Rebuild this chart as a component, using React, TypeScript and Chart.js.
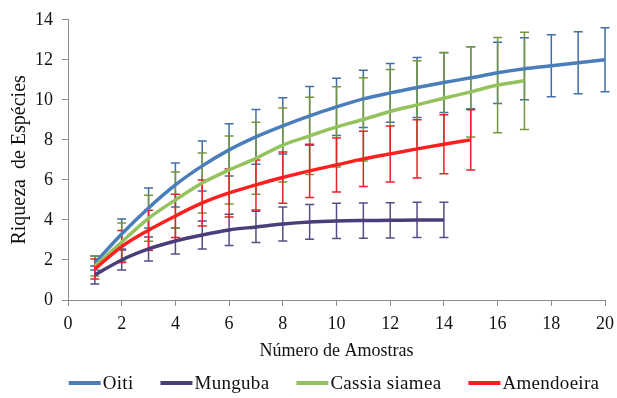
import React, { useEffect, useRef } from "react";
import { Chart, registerables } from "chart.js";

Chart.register(...registerables);

const seriesNames = ["Oiti", "Munguba", "Cassia siamea", "Amendoeira"];

const oitiX = [1, 2, 3, 4, 5, 6, 7, 8, 9, 10, 11, 12, 13, 14, 15, 16, 17, 18, 19, 20];
const oitiY = [1.85, 3.3, 4.6, 5.75, 6.7, 7.5, 8.15, 8.7, 9.2, 9.65, 10.05, 10.35, 10.62, 10.87, 11.1, 11.35, 11.55, 11.7, 11.85, 12.0];
const oitiErr = [0.35, 0.75, 1.0, 1.1, 1.25, 1.3, 1.37, 1.4, 1.47, 1.43, 1.43, 1.47, 1.5, 1.5, 1.55, 1.53, 1.55, 1.55, 1.55, 1.6];

const mungubaX = [1, 2, 3, 4, 5, 6, 7, 8, 9, 10, 11, 12, 13, 14];
const mungubaY = [1.25, 2.0, 2.55, 2.95, 3.25, 3.5, 3.65, 3.8, 3.9, 3.95, 3.97, 3.98, 4.0, 4.0];
const mungubaErr = [0.45, 0.5, 0.6, 0.65, 0.7, 0.78, 0.78, 0.85, 0.87, 0.88, 0.88, 0.88, 0.88, 0.88];

const cassiaX = [1, 2, 3, 4, 5, 6, 7, 8, 9, 10, 11, 12, 13, 14, 15, 16, 17];
const cassiaY = [1.7, 2.9, 4.08, 5.0, 5.85, 6.5, 7.08, 7.74, 8.2, 8.65, 9.02, 9.42, 9.75, 10.08, 10.4, 10.74, 10.95];
const cassiaErr = [0.5, 0.95, 1.15, 1.4, 1.5, 1.7, 1.8, 1.85, 1.93, 2.0, 2.08, 2.1, 2.2, 2.27, 2.25, 2.38, 2.43];

const amendX = [1, 2, 3, 4, 5, 6, 7, 8, 9, 10, 11, 12, 13, 14, 15];
const amendY = [1.55, 2.67, 3.49, 4.2, 4.85, 5.35, 5.75, 6.12, 6.45, 6.75, 7.05, 7.3, 7.55, 7.78, 8.0];
const amendErr = [0.5, 0.8, 1.0, 1.08, 1.15, 1.2, 1.25, 1.28, 1.33, 1.35, 1.38, 1.4, 1.45, 1.47, 1.5];

const xTicks = [0, 2, 4, 6, 8, 10, 12, 14, 16, 18, 20];
const yTicks = [0, 2, 4, 6, 8, 10, 12, 14];

const lineColors = ["#4a7ebb", "#4b3d7a", "#94c25c", "#ff1f1f"];
const errColors = ["#3f6fa6", "#5a4c86", "#74963e", "#e8222a"];

const FONT = '"Liberation Serif", "Times New Roman", serif';

export default function App() {
  const ref = useRef<HTMLCanvasElement>(null);

  useEffect(() => {
    document.body.style.margin = "0";
    const canvas = ref.current;
    if (!canvas) return;

    const xs = [oitiX, mungubaX, cassiaX, amendX];
    const ys = [oitiY, mungubaY, cassiaY, amendY];
    const errs = [oitiErr, mungubaErr, cassiaErr, amendErr];
    const orders = [4, 3, 2, 1];

    const datasets = seriesNames.map((name, i) => ({
      label: name,
      data: xs[i].map((x, j) => ({ x, y: ys[i][j] })),
      errors: errs[i],
      errColor: errColors[i],
      borderColor: lineColors[i],
      backgroundColor: lineColors[i],
      borderWidth: 3.5,
      pointRadius: 0,
      cubicInterpolationMode: "monotone",
      order: orders[i],
      fill: false,
    }));

    const errorBars = {
      id: "errorBars",
      beforeDatasetsDraw(chart: any) {
        const ctx = chart.ctx;
        const xS = chart.scales.x;
        const yS = chart.scales.y;
        ctx.save();
        chart.data.datasets.forEach((ds: any) => {
          ctx.strokeStyle = ds.errColor;
          ctx.lineWidth = 1.5;
          ds.data.forEach((p: any, j: number) => {
            const e = ds.errors[j];
            const px = xS.getPixelForValue(p.x);
            const top = yS.getPixelForValue(p.y + e);
            const bot = yS.getPixelForValue(p.y - e);
            const cap = 4.5;
            ctx.beginPath();
            ctx.moveTo(px, top);
            ctx.lineTo(px, bot);
            ctx.moveTo(px - cap, top);
            ctx.lineTo(px + cap, top);
            ctx.moveTo(px - cap, bot);
            ctx.lineTo(px + cap, bot);
            ctx.stroke();
          });
        });
        ctx.restore();
      },
    };

    const customLegend = {
      id: "customLegend",
      afterDraw(chart: any) {
        const ctx = chart.ctx;
        ctx.save();
        ctx.font = "19px " + FONT;
        (ctx as any).letterSpacing = "0.3px";
        const lineLen = 32;
        const textGap = 2;
        const itemGap = 27;
        const widths = seriesNames.map((n) => ctx.measureText(n).width);
        const total =
          widths.reduce((a, w) => a + lineLen + textGap + w, 0) + itemGap * (seriesNames.length - 1);
        let x = 334 - total / 2;
        const y = 383;
        ctx.textBaseline = "middle";
        ctx.textAlign = "left";
        seriesNames.forEach((n, i) => {
          ctx.fillStyle = lineColors[i];
          ctx.fillRect(x, y - 2, lineLen, 4);
          ctx.fillStyle = "#111";
          ctx.fillText(n, x + lineLen + textGap, y + 1);
          x += lineLen + textGap + widths[i] + itemGap;
        });
        ctx.restore();
      },
    };

    const chart = new Chart(canvas, {
      type: "line",
      data: { datasets: datasets as any },
      plugins: [errorBars, customLegend],
      options: {
        animation: false,
        responsive: false,
        layout: { padding: { left: 0, right: 12, top: 15, bottom: 30 } },
        plugins: {
          legend: { display: false },
          tooltip: { enabled: false },
        },
        scales: {
          x: {
            type: "linear",
            min: 0,
            max: 20,
            afterBuildTicks(scale: any) {
              scale.ticks = xTicks.map((v) => ({ value: v }));
            },
            afterFit(scale: any) {
              scale.height = 68;
              scale.paddingLeft = 0;
              scale.paddingRight = 0;
            },
            ticks: {
              font: { family: FONT, size: 18 },
              color: "#111",
              padding: 7,
              maxRotation: 0,
              autoSkip: false,
            },
            grid: {
              display: true,
              drawOnChartArea: false,
              tickLength: 6,
              color: "#8c8c8c",
            },
            border: { display: true, color: "#8c8c8c", width: 1 },
            title: {
              display: true,
              text: "Número de Amostras",
              font: { family: FONT, size: 18 },
              color: "#111",
              padding: { top: 0, bottom: 6 },
            },
          },
          y: {
            type: "linear",
            min: 0,
            max: 14,
            afterBuildTicks(scale: any) {
              scale.ticks = yTicks.map((v) => ({ value: v }));
            },
            afterFit(scale: any) {
              scale.width = 68;
            },
            ticks: {
              font: { family: FONT, size: 18 },
              color: "#111",
              padding: 9,
            },
            grid: {
              display: true,
              drawOnChartArea: false,
              tickLength: 6,
              color: "#8c8c8c",
            },
            border: { display: true, color: "#8c8c8c", width: 1 },
            title: {
              display: true,
              text: "Riqueza  de Espécies",
              font: { family: FONT, size: 20 },
              color: "#111",
              padding: { top: 8, bottom: 0 },
            },
          },
        },
      },
    });

    return () => chart.destroy();
  }, []);

  return (
    <div style={{ width: 617, height: 398 }}>
      <canvas ref={ref} width={617} height={398} style={{ display: "block" }} />
    </div>
  );
}
